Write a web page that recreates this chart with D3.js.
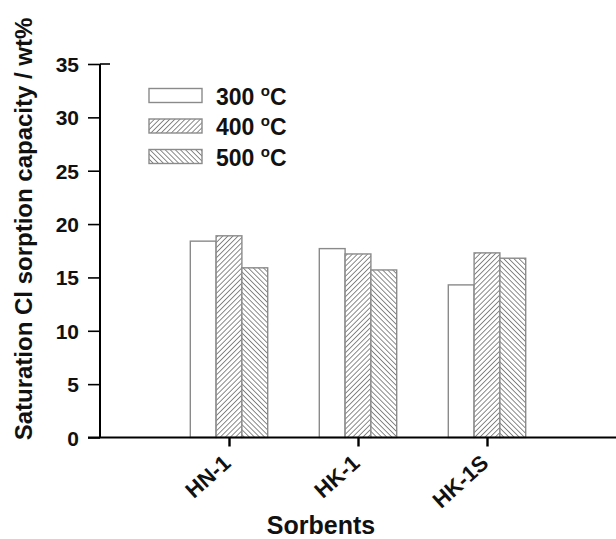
<!DOCTYPE html>
<html>
<head>
<style>
  body { margin: 0; background: #fff; }
  text { font-family: "Liberation Sans", Arial, sans-serif; font-weight: bold; }
</style>
</head>
<body>
<svg id="chart" width="616" height="539"></svg>
<script src="https://cdn.jsdelivr.net/npm/d3@7"></script>
<script>
// data
const sorbents = ["HN-1", "HK-1", "HK-1S"];
const temps = ["300", "400", "500"];
const cap300 = [18.4, 17.7, 14.3];
const cap400 = [18.9, 17.2, 17.3];
const cap500 = [15.9, 15.7, 16.8];
const yTicks = [0, 5, 10, 15, 20, 25, 30, 35];

const series = [cap300, cap400, cap500];

const svg = d3.select("#chart");
const defs = svg.append("defs");

// hatch patterns
function hatch(id, angle) {
  const p = defs.append("pattern")
    .attr("id", id)
    .attr("patternUnits", "userSpaceOnUse")
    .attr("width", 3.6).attr("height", 3.6)
    .attr("patternTransform", "rotate(" + angle + ")");
  p.append("rect").attr("width", 3.6).attr("height", 3.6).attr("fill", "#fff");
  p.append("line").attr("x1", 0).attr("y1", 0).attr("x2", 0).attr("y2", 3.6)
    .attr("stroke", "#6e6e6e").attr("stroke-width", 1.6);
}
hatch("h400", 45);
hatch("h500", -45);
const fills = ["#fff", "url(#h400)", "url(#h500)"];

const x = d3.scaleLinear().domain([0, 4]).range([100, 616]);
const y = d3.scaleLinear().domain([0, 35]).range([437.5, 64]);
const bw = 0.2;

// bars
series.forEach((vals, s) => {
  svg.append("g").selectAll("rect")
    .data(vals)
    .join("rect")
      .attr("x", (d, i) => x(i + 1 - 1.5 * bw + s * bw))
      .attr("width", x(bw) - x(0))
      .attr("y", d => y(d))
      .attr("height", d => y(0) - y(d))
      .attr("fill", fills[s])
      .attr("stroke", "#8a8a8a")
      .attr("stroke-width", 1.4);
});

// y axis
const yAxis = svg.append("g")
  .attr("transform", "translate(100,0)")
  .call(d3.axisLeft(y).tickValues(yTicks).tickSize(12).tickPadding(9));
yAxis.select(".domain").attr("stroke-width", 2).attr("d", "M0,64V437.5");
yAxis.selectAll(".tick line").attr("stroke-width", 1.6);
yAxis.selectAll(".tick text").attr("font-size", 21).attr("font-family", "Liberation Sans, Arial, sans-serif").attr("font-weight", "bold").attr("fill", "#111").attr("dy", "0.36em");
svg.append("line").attr("x1", 100).attr("x2", 110).attr("y1", y(35)).attr("y2", y(35))
  .attr("stroke", "#000").attr("stroke-width", 1.6);

// x axis
const xAxis = svg.append("g")
  .attr("transform", "translate(0,437.5)")
  .call(d3.axisBottom(x).tickValues([1, 2, 3]).tickSize(9).tickFormat(""));
xAxis.select(".domain").attr("stroke-width", 2).attr("d", "M88,0H616");
xAxis.selectAll(".tick line").attr("stroke-width", 2.4);

svg.append("g").selectAll("text")
  .data(sorbents)
  .join("text")
    .attr("transform", (d, i) => "translate(" + (x(i + 1) + 3) + ",465) rotate(-42)")
    .attr("text-anchor", "end")
    .attr("font-size", 22)
    .attr("fill", "#111")
    .text(d => d);

// axis titles
svg.append("text")
  .attr("x", 321).attr("y", 534)
  .attr("text-anchor", "middle")
  .attr("font-size", 25)
  .attr("fill", "#111")
  .text("Sorbents");

svg.append("text")
  .attr("transform", "translate(32,229) rotate(-90)")
  .attr("text-anchor", "middle")
  .attr("font-size", 24)
  .attr("fill", "#111")
  .text("Saturation Cl sorption capacity / wt%");

// legend
const leg = svg.append("g").selectAll("g")
  .data(temps)
  .join("g")
    .attr("transform", (d, i) => "translate(149," + (88.5 + i * 30.5) + ")");
leg.append("rect")
  .attr("width", 53).attr("height", 14)
  .attr("fill", (d, i) => fills[i])
  .attr("stroke", "#8a8a8a").attr("stroke-width", 1.4);
const lt = leg.append("text")
  .attr("x", 67).attr("y", 16)
  .attr("font-size", 23)
  .attr("fill", "#111");
lt.append("tspan").text(d => d + " ");
lt.append("tspan").attr("font-size", 15).attr("dy", -9).text("o");
lt.append("tspan").attr("dy", 9).text("C");
</script>
</body>
</html>
